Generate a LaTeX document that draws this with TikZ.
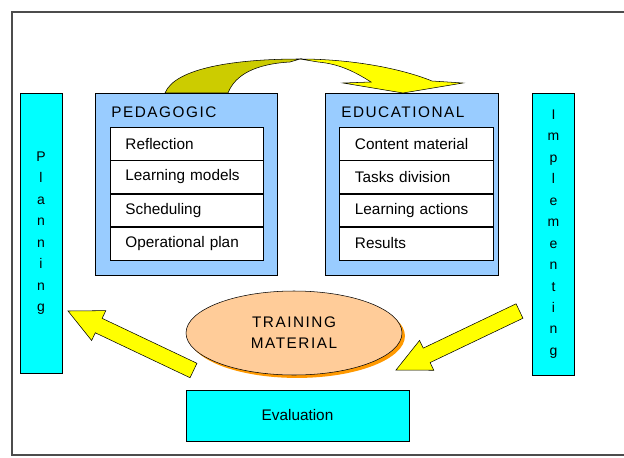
\documentclass[tikz,border=0pt]{standalone}
\usepackage{fontspec}
\setmainfont{Liberation Sans}
\newfontfamily\spacedfont[LetterSpace=10]{Liberation Sans}
\usetikzlibrary{positioning,calc,shapes.geometric,shadows}
\definecolor{paneblue}{HTML}{99CCFF}
\definecolor{sidecyan}{HTML}{00FFFF}
\definecolor{peach}{HTML}{FFCC99}
\definecolor{peachshadow}{HTML}{FF9900}
\definecolor{arrowyellow}{HTML}{FFFF00}
\definecolor{arrowolive}{HTML}{CCCC00}
% block arrow from a tail coordinate to a tip coordinate
\newcommand{\blockarrow}[2]{%
  \path ($(#2)!25.5pt!(#1)$) coordinate (neck);
  \draw[blockarrow] ($(#1)!6pt!90:(#2)$) -- ($(neck)!6pt!-90:(#1)$)
    -- ($(neck)!12.4pt!-90:(#1)$) -- (#2) -- ($(neck)!12.4pt!90:(#1)$)
    -- ($(neck)!6pt!90:(#1)$) -- ($(#1)!6pt!-90:(#2)$) -- cycle;}
\begin{document}
\begin{tikzpicture}[x=0.75pt,y=-0.75pt,
  panel/.style={draw,fill=paneblue,anchor=north west,inner sep=0pt},
  rowbox/.style={draw,fill=white,anchor=north west,inner sep=0pt,minimum height=24.56pt,
    text width=104pt,align=left,font=\fontsize{11.5}{13}\selectfont},
  title/.style={anchor=west,inner sep=0pt,font=\spacedfont\fontsize{11.5}{13}\selectfont},
  sidebox/.style={draw,fill=sidecyan,minimum width=31.5pt,inner sep=0pt,align=center,
    font=\fontsize{10.5}{16.1}\selectfont},
  blockarrow/.style={draw,fill=arrowyellow,line join=miter}]
\useasboundingbox (0,0) rectangle (624,457);
% outer frame
\draw[gray!60!black,line width=1.1pt] (640,12) -- (12,12) -- (12,455) -- (640,455);

% curved arrow on top
\draw[fill=arrowolive] (165,93) .. controls (175,68) and (235,59) .. (300,59) -- (290,62)
  .. controls (255,64) and (235,75) .. (228,93) -- cycle;
\draw[fill=arrowyellow] (300,59) .. controls (350,59) and (400,68) .. (432,81) -- (463,83)
  -- (403,93) -- (343,83) -- (371,82) .. controls (355,72) and (340,64) .. (318,62) -- cycle;

% side columns
\node[sidebox,minimum height=210pt] (plan) at (41,233) {P\\l\\a\\n\\n\\i\\n\\g};
\node[sidebox,minimum height=211.5pt] (impl) at (553.5,234) {I\\m\\p\\l\\e\\m\\e\\n\\t\\i\\n\\g};

% pedagogic panel
\node[panel,minimum width=136.5pt,minimum height=136.5pt] (ped) at (95,93) {};
\node[title] (pedtitle) at (111,112) {PEDAGOGIC};
\node[rowbox,minimum width=114.75pt] (ped1) at (110,127) {\hspace{6pt}Reflection};
\node[rowbox,minimum width=114.75pt,below=0pt of ped1] (ped2) {\hspace{6pt}Learning models};
\node[rowbox,minimum width=114.75pt,below=0pt of ped2] (ped3) {\hspace{6pt}Scheduling};
\node[rowbox,minimum width=114.75pt,below=0pt of ped3] (ped4) {\hspace{6pt}Operational plan};

% educational panel
\node[panel,minimum width=129.75pt,minimum height=136.5pt] (edu) at (325,93) {};
\node[title] (edutitle) at (341,112) {EDUCATIONAL};
\node[rowbox,minimum width=115.5pt] (edu1) at (339,127) {\hspace{6pt}Content material};
\node[rowbox,minimum width=115.5pt,below=0pt of edu1] (edu2) {\hspace{6pt}Tasks division};
\node[rowbox,minimum width=115.5pt,below=0pt of edu2] (edu3) {\hspace{6pt}Learning actions};
\node[rowbox,minimum width=115.5pt,below=0pt of edu3] (edu4) {\hspace{6pt}Results};

% training material
\node[ellipse,draw,fill=peach,minimum width=162pt,minimum height=63pt,align=center,
  drop shadow={fill=peachshadow,opacity=1,shadow xshift=2.2pt,shadow yshift=-2.2pt},
  font=\spacedfont\fontsize{11.5}{15.75}\selectfont] (train) at (294,333) {TRAINING\\MATERIAL};

% evaluation
\node[draw,fill=sidecyan,minimum width=167.25pt,minimum height=38.25pt,
  font=\fontsize{11.5}{13}\selectfont] (eval) at (297.5,415.5) {Evaluation};

% block arrows
\coordinate (lefttail) at (193.5,370.5);
\coordinate (lefttip) at (68,311);
\coordinate (righttail) at (519.5,311);
\coordinate (righttip) at (396,370);
\blockarrow{lefttail}{lefttip}
\blockarrow{righttail}{righttip}
\end{tikzpicture}
\end{document}
